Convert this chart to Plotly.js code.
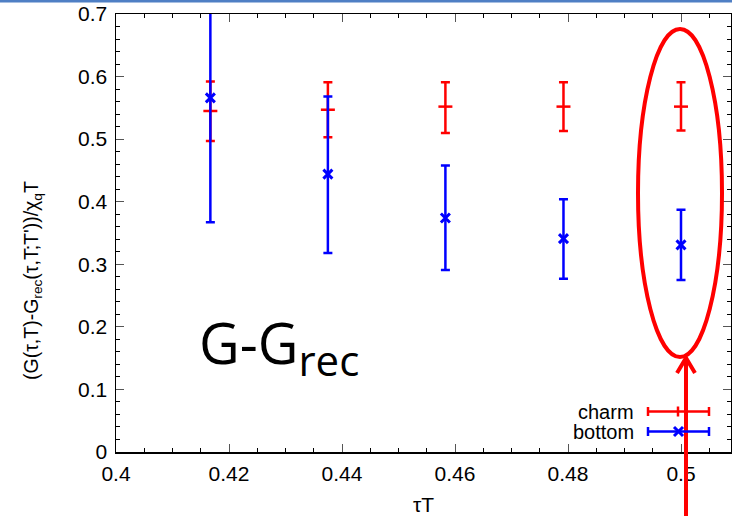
<!DOCTYPE html>
<html>
<head>
<meta charset="utf-8">
<script src="https://cdn.plot.ly/plotly-3.0.1.min.js"></script>
<style>html,body{margin:0;padding:0;background:#fff;}#plot{width:732px;height:516px;}</style>
</head>
<body>
<div id="plot"></div>
<script>
// ---- data ----
const tauT = [0.4167, 0.4375, 0.4583, 0.4792, 0.5];

const charm      = [0.545, 0.547, 0.552, 0.552, 0.552];
const charmPlus  = [0.047, 0.044, 0.039, 0.039, 0.039];
const charmMinus = [0.048, 0.044, 0.042, 0.039, 0.038];

const bottom      = [0.566, 0.444, 0.374, 0.341, 0.331];
const bottomPlus  = [0.200, 0.124, 0.084, 0.063, 0.056];
const bottomMinus = [0.199, 0.126, 0.083, 0.064, 0.056];

const seriesNames = ["charm", "bottom"];
const xTickVals = [0.4, 0.42, 0.44, 0.46, 0.48, 0.5];
const xTickText = ["0.4", "0.42", "0.44", "0.46", "0.48", "0.5"];
const yTickVals = [0, 0.1, 0.2, 0.3, 0.4, 0.5, 0.6, 0.7];
const yTickText = ["0", "0.1", "0.2", "0.3", "0.4", "0.5", "0.6", "0.7"];

const RED = "#ff0000", BLUE = "#0000ff";
const FONT = "Liberation Sans, Arial, sans-serif";

const traces = [
  {
    x: tauT, y: charm, name: seriesNames[0], type: "scatter", mode: "markers",
    marker: {symbol: "line-ew", size: 10, color: RED, line: {color: RED, width: 2.5}},
    error_y: {type: "data", symmetric: false, array: charmPlus, arrayminus: charmMinus,
              color: RED, thickness: 2.5, width: 4.5},
    cliponaxis: true
  },
  {
    x: tauT, y: bottom, name: seriesNames[1], type: "scatter", mode: "markers",
    marker: {symbol: "x-thin", size: 9, color: BLUE, line: {color: BLUE, width: 3}},
    error_y: {type: "data", symmetric: false, array: bottomPlus, arrayminus: bottomMinus,
              color: BLUE, thickness: 2.5, width: 4.5},
    cliponaxis: true
  }
];

// pixel helpers for decorations (plot area: x 116..731, y 14..452)
const L = 116, R = 731, T = 14, B = 452;
const px = v => (v - L) / (R - L);
const py = v => (B - v) / (B - T);

const shapes = [];
const annotations = [];

// slide border line at top
shapes.push({type: "rect", xref: "paper", yref: "paper", x0: px(0), x1: px(732), y0: py(2.5), y1: py(0),
             fillcolor: "#4f7fc4", line: {width: 0}, layer: "above"});

// red ellipse around the tauT=0.5 points
shapes.push({type: "circle", xref: "paper", yref: "paper",
             x0: px(638), x1: px(722), y0: py(357), y1: py(29),
             line: {color: RED, width: 4}, fillcolor: "rgba(0,0,0,0)", layer: "above"});
// red arrow from below
shapes.push({type: "line", xref: "paper", yref: "paper", x0: px(686), x1: px(686), y0: py(520), y1: py(358),
             line: {color: RED, width: 4}, layer: "above"});
shapes.push({type: "path", xref: "paper", yref: "paper",
             path: `M ${px(677)} ${py(373)} L ${px(686)} ${py(358)} L ${px(695)} ${py(373)}`,
             line: {color: RED, width: 4}, layer: "above"});

// gnuplot-style key: text then sample (line with caps and centre marker)
const keyRows = [
  {name: seriesNames[0], color: RED, y: 411.5, mark: "plus"},
  {name: seriesNames[1], color: BLUE, y: 431.5, mark: "x"}
];
keyRows.forEach(k => {
  annotations.push({xref: "paper", yref: "paper", x: px(636), y: py(k.y), xanchor: "right", yanchor: "middle",
                    text: k.name, showarrow: false, font: {family: FONT, size: 20, color: "#000"}});
  shapes.push({type: "line", xref: "paper", yref: "paper", x0: px(648), x1: px(709), y0: py(k.y), y1: py(k.y),
               line: {color: k.color, width: 2.5}});
  [648, 709].forEach(cx => shapes.push({type: "line", xref: "paper", yref: "paper", x0: px(cx), x1: px(cx),
               y0: py(k.y + 4.5), y1: py(k.y - 4.5), line: {color: k.color, width: 2.5}}));
  if (k.mark === "plus") {
    shapes.push({type: "line", xref: "paper", yref: "paper", x0: px(678), x1: px(678),
                 y0: py(k.y + 5), y1: py(k.y - 5), line: {color: k.color, width: 2.5}});
  } else {
    shapes.push({type: "line", xref: "paper", yref: "paper", x0: px(674), x1: px(683),
                 y0: py(k.y + 4.5), y1: py(k.y - 4.5), line: {color: k.color, width: 3}});
    shapes.push({type: "line", xref: "paper", yref: "paper", x0: px(674), x1: px(683),
                 y0: py(k.y - 4.5), y1: py(k.y + 4.5), line: {color: k.color, width: 3}});
  }
});

// big G-G_rec label
annotations.push({xref: "paper", yref: "paper", x: px(197), y: py(346), xanchor: "left", yanchor: "middle",
                  text: "G-G<sub><span style='font-size:42px'>rec</span></sub>", showarrow: false,
                  font: {family: "Open Sans, sans-serif", size: 56, color: "#000"}});

// y axis title, placed like the reference
annotations.push({xref: "paper", yref: "paper", x: px(32), y: py(281), xanchor: "center", yanchor: "middle",
                  textangle: -90, showarrow: false,
                  text: "(G(τ,T)-G<sub>rec</sub>(τ,T;T'))/χ<sub>q</sub>T",
                  font: {family: FONT, size: 19.5, color: "#000"}});

const axisCommon = {
  showgrid: false, zeroline: false, showline: true, linecolor: "#000", linewidth: 1.5,
  mirror: "allticks", ticks: "inside", ticklen: 8, tickwidth: 1, tickcolor: "#555",
  tickfont: {family: FONT, size: 21, color: "#000"}
};

const layout = {
  width: 732, height: 516,
  margin: {l: L, r: 732 - R, t: T, b: 516 - B},
  paper_bgcolor: "#fff", plot_bgcolor: "#fff",
  showlegend: false,
  xaxis: Object.assign({}, axisCommon, {
    range: [0.4, 0.4 + (R - L) / 5650], tickvals: xTickVals, ticktext: xTickText,
    ticklabelstandoff: 2,
    minor: {dtick: 0.005, ticks: "inside", ticklen: 4, tickcolor: "#000", tickwidth: 1},
    title: {text: "τT", font: {family: FONT, size: 21, color: "#000"}, standoff: 18}
  }),
  yaxis: Object.assign({}, axisCommon, {
    range: [0, 0.7], tickvals: yTickVals, ticktext: yTickText,
    ticklabelstandoff: 3,
    minor: {dtick: 0.02, ticks: "inside", ticklen: 4, tickcolor: "#000", tickwidth: 1}
  }),
  shapes: shapes,
  annotations: annotations
};

Plotly.newPlot("plot", traces, layout, {staticPlot: true, displayModeBar: false});
</script>
</body>
</html>
